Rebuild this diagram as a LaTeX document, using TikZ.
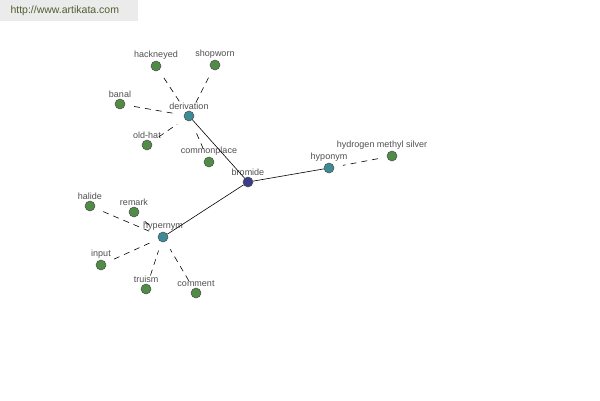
\documentclass[tikz,border=0pt]{standalone}
\usepackage{fontspec}
\setmainfont{Liberation Sans}
\usetikzlibrary{positioning}
\definecolor{leafgreen}{RGB}{80,140,70}
\definecolor{hubteal}{RGB}{60,140,150}
\definecolor{rootblue}{RGB}{60,60,140}
\definecolor{labelgray}{RGB}{80,80,80}
\definecolor{urlgreen}{RGB}{80,95,50}
\tikzset{
  dot/.style={circle, draw=black!70, line width=0.5pt, minimum size=10pt, inner sep=0pt},
  leaf/.style={dot, fill=leafgreen},
  hub/.style={dot, fill=hubteal},
  root/.style={dot, fill=rootblue},
  lbl/.style={font=\fontsize{9}{10}\selectfont, text=labelgray, inner sep=1pt},
  link/.style={line width=0.6pt},
  dashlink/.style={line width=0.6pt, dash pattern=on 6pt off 5pt, shorten <=9pt, shorten >=9pt},
}

\begin{document}
\begin{tikzpicture}[x=1pt, y=-1pt]
  \useasboundingbox[fill=white] (0,0) rectangle (600,400);
  \node[fill=black!8, minimum width=138pt, minimum height=21pt, anchor=north west, inner sep=0pt] (url) at (0,0) {};
  \node[font=\fontsize{10.5}{11}\selectfont, text=urlgreen, anchor=west] (urltext) at (7,11) {http://www.artikata.com};

  % centre nodes
  \node[root, label={[lbl]above:bromide}]    (bromide)    at (248,182) {};
  \node[hub,  label={[lbl]above:derivation}] (derivation) at (189,116) {};
  \node[hub,  label={[lbl]above:hypernym}]   (hypernym)   at (163,237) {};
  \node[hub,  label={[lbl]above:hyponym}]    (hyponym)    at (329,168) {};

  % leaves
  \node[leaf, label={[lbl]above:hackneyed}]   (hackneyed)   at (156,66)  {};
  \node[leaf, label={[lbl]above:shopworn}]    (shopworn)    at (215,65)  {};
  \node[leaf, label={[lbl]above:banal}]       (banal)       at (120,104) {};
  \node[leaf, label={[lbl]above:old-hat}]     (oldhat)      at (147,145) {};
  \node[leaf, label={[lbl]above:commonplace}] (commonplace) at (209,162) {};
  \node[leaf, label={[lbl]above:halide}]      (halide)      at (90,206)  {};
  \node[leaf, label={[lbl]above:remark}]      (remark)      at (134,212) {};
  \node[leaf, label={[lbl]above:input}]       (input)       at (101,265) {};
  \node[leaf, label={[lbl]above:truism}]      (truism)      at (146,289) {};
  \node[leaf, label={[lbl]above:comment}]     (comment)     at (196,293) {};
  \node[leaf, label={[lbl, xshift=-10pt]above:hydrogen methyl silver}] (hms) at (392,156) {};

  \draw[link] (bromide) -- (derivation);
  \draw[link] (bromide) -- (hypernym);
  \draw[link] (bromide) -- (hyponym);
  \foreach \leafname in {hackneyed,shopworn,banal,oldhat,commonplace}
    \draw[dashlink] (\leafname) -- (derivation);
  \foreach \leafname in {halide,remark,input,truism,comment}
    \draw[dashlink] (\leafname) -- (hypernym);
  \draw[dashlink] (hms) -- (hyponym);
\end{tikzpicture}
\end{document}
